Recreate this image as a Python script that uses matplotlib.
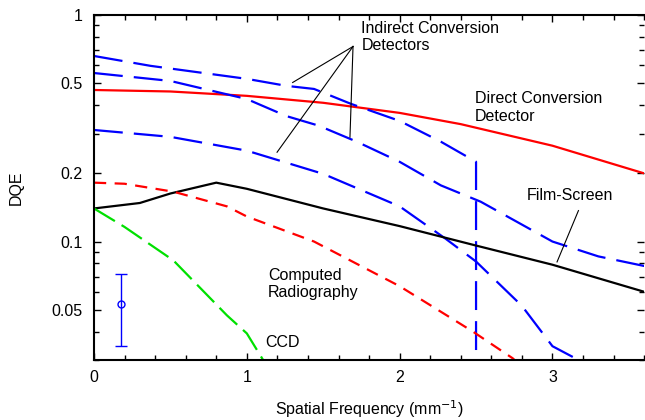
import matplotlib
matplotlib.use("Agg")
import matplotlib.pyplot as plt
from matplotlib.ticker import FixedLocator, FixedFormatter, LogLocator, MultipleLocator, NullFormatter

plt.rcParams['font.family'] = ['Liberation Sans', 'DejaVu Sans']

# values
direct_x = [0, 0.5, 1.0, 1.5, 2.0, 2.4, 3.0, 3.6]
direct_y = [0.467, 0.46, 0.44, 0.41, 0.37, 0.33, 0.265, 0.2]

ind_a_x = [0, 0.37, 1.0, 1.26, 1.44, 1.68, 2.0, 2.27, 2.5, 2.5]
ind_a_y = [0.66, 0.597, 0.523, 0.487, 0.472, 0.406, 0.341, 0.276, 0.225, 0.02]

ind_b_x = [0, 0.5, 1.0, 1.26, 1.47, 1.72, 2.0, 2.27, 2.53, 3.0, 3.3, 3.6]
ind_b_y = [0.555, 0.512, 0.426, 0.358, 0.325, 0.276, 0.225, 0.177, 0.150, 0.1, 0.086, 0.078]

ind_c_x = [0, 0.5, 1.0, 1.5, 2.0, 2.3, 2.5, 2.8, 3.0, 3.13, 3.3]
ind_c_y = [0.311, 0.29, 0.252, 0.199, 0.143, 0.103, 0.0816, 0.052, 0.0345, 0.031, 0.027]

film_x = [0, 0.3, 0.5, 0.8, 1.0, 1.5, 2.0, 2.5, 3.0, 3.6]
film_y = [0.14, 0.148, 0.163, 0.182, 0.171, 0.14, 0.117, 0.096, 0.079, 0.06]

cr_x = [0, 0.2, 0.52, 0.87, 1.0, 1.44, 2.0, 2.48, 2.74, 2.85]
cr_y = [0.182, 0.18, 0.166, 0.143, 0.129, 0.1, 0.0635, 0.040, 0.0305, 0.026]

ccd_x = [0, 0.2, 0.52, 0.87, 1.0, 1.1, 1.16]
ccd_y = [0.14, 0.116, 0.0825, 0.0472, 0.0393, 0.0305, 0.026]

err_x = 0.18
err_y = 0.0528
err_lo = 0.0345
err_hi = 0.0717

fig = plt.figure(figsize=(6.45, 4.2), dpi=100)
ax = fig.add_axes([0.1457, 0.143, 0.853, 0.821])

ax.plot(direct_x, direct_y, color='#ff0000', lw=1.6)
for xs, ys in [(ind_a_x, ind_a_y), (ind_b_x, ind_b_y), (ind_c_x, ind_c_y)]:
    ax.plot(xs, ys, color='#0000ff', lw=1.6, linestyle=(0, (13, 5)))
ax.plot(film_x, film_y, color='black', lw=1.6)
ax.plot(cr_x, cr_y, color='#ff0000', lw=1.6, linestyle=(0, (5.5, 3.8)))
ax.plot(ccd_x, ccd_y, color='#00e000', lw=1.6, linestyle=(0, (11, 3.5)))

ax.errorbar([err_x], [err_y], yerr=[[err_y - err_lo], [err_hi - err_y]],
            fmt='o', color='#0000ff', mfc='none', ms=5, lw=1, capsize=4, capthick=1)

ax.set_yscale('log')
ax.set_xlim(0, 3.6)
ax.set_ylim(0.03, 1)

ax.xaxis.set_major_locator(FixedLocator([0, 1, 2, 3]))
ax.xaxis.set_minor_locator(MultipleLocator(0.2))
ax.yaxis.set_major_locator(FixedLocator([0.05, 0.1, 0.2, 0.5, 1]))
ax.yaxis.set_major_formatter(FixedFormatter(['0.05', '0.1', '0.2', '0.5', '1']))
ax.yaxis.set_minor_locator(LogLocator(subs=range(1, 10)))
ax.yaxis.set_minor_formatter(NullFormatter())

fs = 11.5
ax.tick_params(which='both', direction='in', top=True, right=True, labelsize=fs, width=1)
ax.tick_params(which='major', length=5)
ax.tick_params(which='minor', length=3.5)
ax.tick_params(axis='x', pad=7)
ax.tick_params(axis='y', pad=8)
for side in ['left', 'bottom', 'top']:
    ax.spines[side].set_linewidth(1.5)
ax.spines['right'].set_visible(False)

ax.set_xlabel('Spatial Frequency (mm$^{-1}$)', fontsize=fs, labelpad=10)
ax.set_ylabel('DQE', fontsize=fs, labelpad=20)

ax.text(1.75, 0.80, 'Indirect Conversion\nDetectors', fontsize=fs, ha='left', va='center')
for ex, ey in [(1.30, 0.504), (1.198, 0.248), (1.675, 0.289)]:
    ax.plot([1.695, ex], [0.727, ey], color='black', lw=0.8)
ax.text(2.49, 0.391, 'Direct Conversion\nDetector', fontsize=fs, ha='left', va='center')
ax.text(2.83, 0.159, 'Film-Screen', fontsize=fs, ha='left', va='center')
ax.plot([3.17, 3.03], [0.137, 0.0813], color='black', lw=0.8)
ax.text(1.14, 0.0649, 'Computed\nRadiography', fontsize=fs, ha='left', va='center')
ax.text(1.12, 0.036, 'CCD', fontsize=fs, ha='left', va='center')

fig.savefig('out.png', dpi=100)
